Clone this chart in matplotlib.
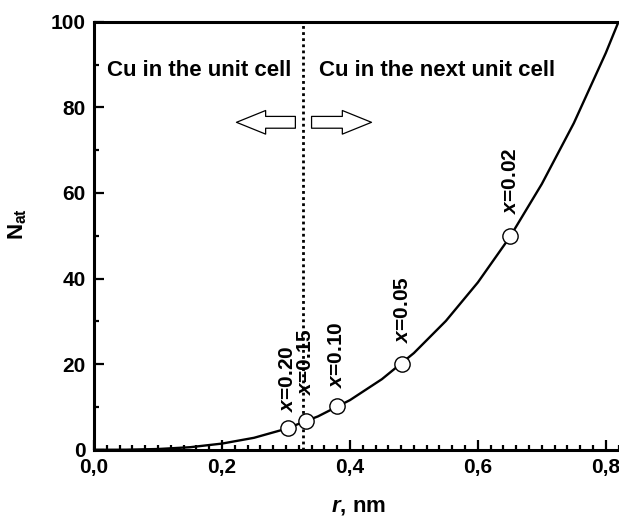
import matplotlib
matplotlib.use('Agg')
import matplotlib.pyplot as plt
from matplotlib.ticker import MultipleLocator, FuncFormatter

plt.rcParams['font.family'] = ['Liberation Sans', 'DejaVu Sans']
plt.rcParams['font.weight'] = 'bold'
plt.rcParams['mathtext.fontset'] = 'custom'
plt.rcParams['mathtext.rm'] = 'Liberation Sans:bold'
plt.rcParams['mathtext.it'] = 'Liberation Sans:bold:italic'
plt.rcParams['mathtext.bf'] = 'Liberation Sans:bold'

# number of Cu atoms inside a sphere of radius r
curve_r = [0.0, 0.05, 0.10, 0.15, 0.20, 0.25, 0.30, 0.35, 0.40, 0.45,
           0.50, 0.55, 0.60, 0.65, 0.70, 0.75, 0.80, 0.85]
curve_n = [0.0, 0.02, 0.18, 0.6, 1.45, 2.8, 4.9, 7.8, 11.6, 16.5,
           22.6, 30.1, 39.1, 49.7, 62.1, 76.3, 92.7, 111.0]

# compositions marked on the curve
point_r = [0.303, 0.331, 0.379, 0.482, 0.651]
point_n = [5.2, 6.8, 10.3, 20.0, 50.0]
point_x = ['0.20', '0.15', '0.10', '0.05', '0.02']

cell_r = 0.327  # unit cell boundary

fig = plt.figure(figsize=(6.19, 5.17), dpi=100)
ax = fig.add_axes([0.152, 0.130, 0.930, 0.828])

ax.plot(curve_r, curve_n, color='black', lw=1.7, zorder=2)
ax.plot(point_r, point_n, 'o', ms=11, mfc='white', mec='black', mew=1.0, zorder=3)
ax.axvline(cell_r, color='black', ls=(0, (1, 1.2)), lw=2.0, zorder=1)

gaps = [16, 26, 18, 21, 22]
for r, n, lab, g in zip(point_r, point_n, point_x, gaps):
    ax.annotate(r'$x$=' + lab, xy=(r, n), xytext=(0, g), textcoords='offset pixels',
                rotation=90, ha='center', va='bottom', fontsize=15, fontweight='bold')

ax.text(0.020, 88.5, 'Cu in the unit cell', fontsize=16, fontweight='bold', va='center')
ax.text(0.352, 88.5, 'Cu in the next unit cell', fontsize=16, fontweight='bold', va='center')

arrow = dict(arrowstyle='simple,head_length=21,head_width=17,tail_width=8.5',
             fc='white', ec='black', lw=0.9, mutation_scale=1, shrinkA=0, shrinkB=0)
ax.annotate('', xy=(0.2226, 76.5), xytext=(0.3147, 76.5), arrowprops=arrow)
ax.annotate('', xy=(0.4337, 76.5), xytext=(0.340, 76.5), arrowprops=arrow)

ax.set_xlim(0, 0.9)
ax.set_ylim(0, 100)
ax.xaxis.set_major_locator(MultipleLocator(0.2))
ax.xaxis.set_minor_locator(MultipleLocator(0.02))
ax.yaxis.set_major_locator(MultipleLocator(20))
ax.yaxis.set_minor_locator(MultipleLocator(10))
ax.xaxis.set_major_formatter(FuncFormatter(lambda v, p: ('%.1f' % v).replace('.', ',')))
ax.tick_params(which='both', direction='in', top=False, right=False,
               labelsize=15, width=1.6, pad=6)
ax.tick_params(which='major', length=7)
ax.tick_params(which='minor', length=3.5)
for lab in ax.get_xticklabels() + ax.get_yticklabels():
    lab.set_fontweight('bold')
for s in ax.spines.values():
    s.set_linewidth(2.2)

ax.set_xlabel(r'$r$, nm', fontsize=16, fontweight='bold')
ax.set_ylabel(r'$\mathrm{N}_{\mathrm{at}}$', fontsize=16)
ax.xaxis.set_label_coords(0.459, -0.108)
ax.yaxis.set_label_coords(-0.113, 0.528)

fig.savefig('out.png', dpi=100)
